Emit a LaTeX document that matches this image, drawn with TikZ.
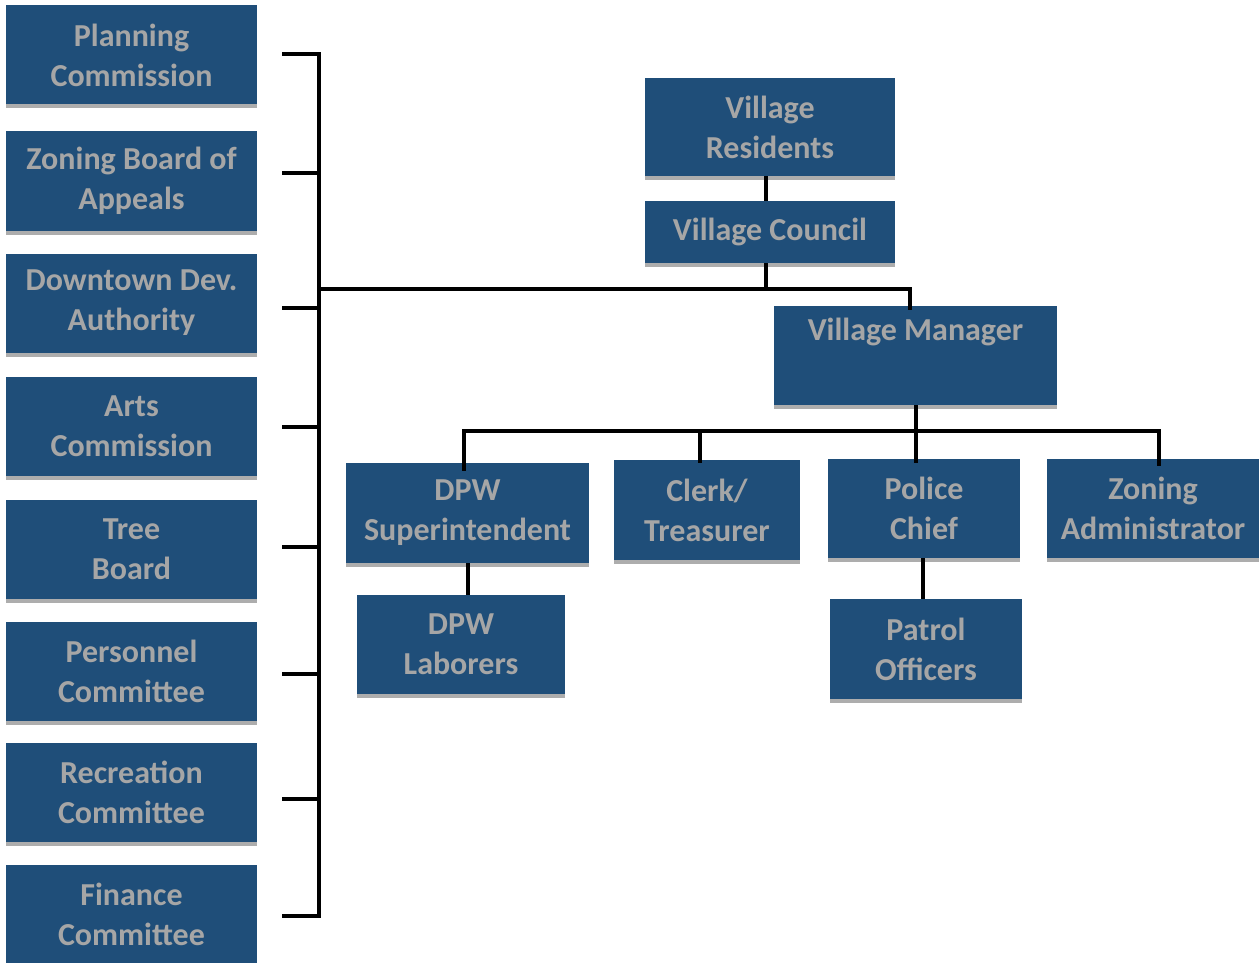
\documentclass[tikz,border=0pt]{standalone}
\usepackage{fontspec}
\setmainfont{Carlito}
\usetikzlibrary{shadows}

\definecolor{boxblue}{RGB}{31,78,121}
\definecolor{txtgray}{RGB}{166,166,166}
\definecolor{stripgray}{RGB}{173,173,173}

\begin{document}
\begin{tikzpicture}[x=1pt, y=-1pt]
  \tikzset{
    post/.style={
      fill=boxblue, text=txtgray, inner sep=0pt, align=center,
      font=\fontsize{32pt}{40pt}\selectfont\bfseries,
      drop shadow={shadow xshift=0pt, shadow yshift=-4pt, fill=stripgray, opacity=1}
    },
    sidepost/.style={
      post, minimum width=251pt, minimum height=99pt
    },
    wire/.style={
      draw, line width=4pt
    }
  }
  \useasboundingbox (0,0) rectangle (1259,963);

  % committees on the left
  \foreach \name/\y/\txt in {pc/55/{Planning\\Commission}, zba/181/{Zoning Board of\\Appeals},
      dda/303/{Downtown Dev.\\Authority}, arts/426/{Arts\\Commission}, tree/549/{Tree\\Board},
      pers/671/{Personnel\\Committee}, rec/792/{Recreation\\Committee}, fin/914/{Finance\\Committee}} {
    \node [sidepost] (\name) at (131.5, \y) {\txt};
  }

  \node [post, minimum width=250pt, minimum height=98pt] (res) at (770, 127) {Village\\Residents};
  \node [post, minimum width=250pt, minimum height=62pt] (council) at (770, 232) {Village Council};
  \node [post, minimum width=283pt, minimum height=99pt] (mgr) at (915.5, 355.5) {Village Manager\\ \strut};

  \node [post, minimum width=243pt, minimum height=100pt] (dpw) at (467.5, 513) {DPW\\Superintendent};
  \node [post, minimum width=186pt, minimum height=100pt] (clerk) at (707, 510) {Clerk/\\Treasurer};
  \node [post, minimum width=192pt, minimum height=99pt] (police) at (924, 508.5) {Police\\Chief};
  \node [post, minimum width=212pt, minimum height=99pt] (zoning) at (1153, 508.5) {Zoning\\Administrator};
  \node [post, minimum width=208pt, minimum height=99pt] (lab) at (461, 644.5) {DPW\\Laborers};
  \node [post, minimum width=192pt, minimum height=100pt] (patrol) at (926, 649) {Patrol\\Officers};

  % bracket for the committees
  \coordinate (hub) at (319, 289);
  \coordinate (bus) at (464, 431);
  \foreach \y [count=\i] in {54, 173, 308, 427, 547, 674, 799, 916} {
    \coordinate (t\i) at (282, \y);
  }
  \path [wire] (t1) -- (t1 -| hub) -- (t8 -| hub) -- (t8);
  \foreach \i in {2, ..., 7} {
    \path [wire] (t\i) -- (t\i -| hub);
  }

  \path [wire] (res.south -| 766, 0) -- (council.north -| 766, 0);
  \path [wire] ([xshift=-4pt]council.south) -- ([xshift=-4pt]council.south |- hub);
  \path [wire] (hub) -- ([xshift=-6pt]mgr.north |- hub) -- ([xshift=-6pt, yshift=-4pt]mgr.north);

  \path [wire] (mgr.south) -- (mgr.south |- bus);
  \path [wire] ([yshift=-8pt]dpw.north -| bus) -- (bus) -- ([xshift=6pt]zoning.north |- bus) -- ([xshift=6pt, yshift=-7pt]zoning.north);
  \path [wire] ([xshift=-7pt]clerk.north |- bus) -- ([xshift=-7pt, yshift=-3pt]clerk.north);
  \path [wire] (mgr.south |- bus) -- ([yshift=-4pt]police.north -| mgr.south);

  \path [wire] (dpw) -- (dpw |- lab.north);
  \path [wire] ([xshift=-1pt]police.south) -- ([xshift=-1pt]police.south |- patrol.north);
\end{tikzpicture}
\end{document}
